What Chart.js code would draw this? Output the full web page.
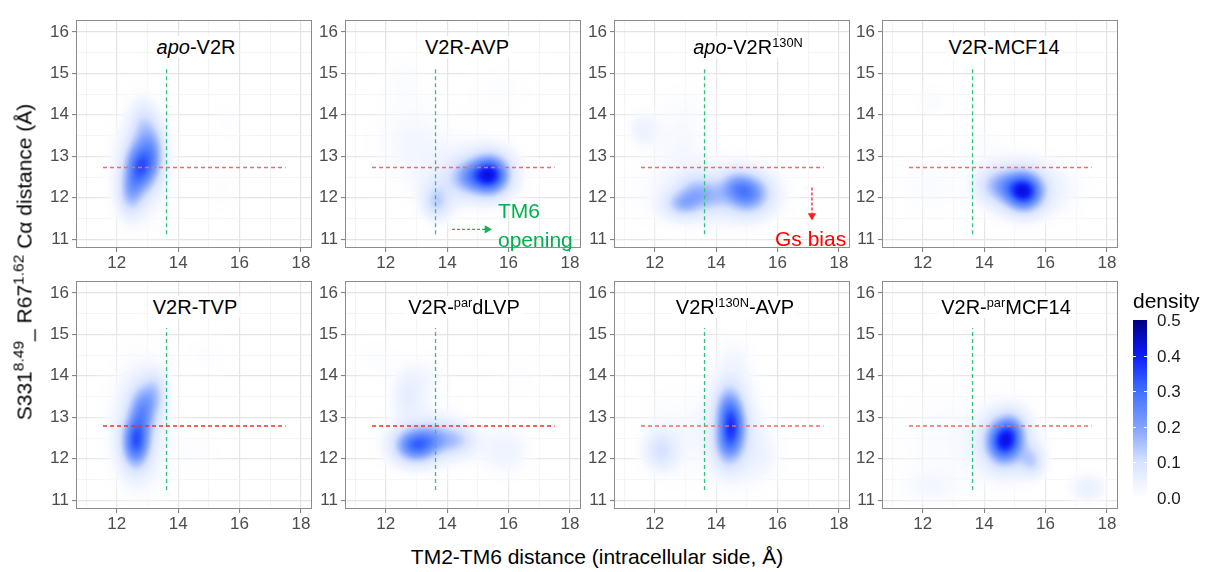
<!DOCTYPE html>
<html><head><meta charset="utf-8">
<script src="https://cdn.jsdelivr.net/npm/chart.js@4.4.1/dist/chart.umd.min.js"></script>
<style>
body{margin:0;background:#fff;width:1206px;height:572px;position:relative;overflow:hidden;font-family:"Liberation Sans",Arial,sans-serif;}
canvas{position:absolute;}
.t{position:absolute;transform:translate(-50%,-50%);white-space:nowrap;line-height:1;}
.l{position:absolute;transform:translate(0,-50%);white-space:nowrap;line-height:1;}
.ptitle{font-size:20px;color:#000;background:#fff;padding:1px 3px;}
sup{font-size:0.64em;position:relative;top:-0.55em;vertical-align:baseline;line-height:0;}
.ytitle sup{font-size:0.74em;top:-0.5em;}
.cbt{position:absolute;background:#fff;height:1px;width:3px;}
</style></head><body>
<script>
// ---------------- data ----------------
const xTickLabels=[12,14,16,18];
const xMinorTicks=[11,13,15,17];
const yTickLabels=[11,12,13,14,15,16];
const yMinorTicks=[11.5,12.5,13.5,14.5,15.5];
const densityTicks=[0,0.1,0.2,0.3,0.4,0.5];
const densityColors=['#ffffff','#d8e3ff','#80a2ff','#4070ff','#0d1cff','#000080'];
const panelTitles=['<i>apo</i>-V2R','V2R-AVP','<i>apo</i>-V2R<sup>130N</sup>','V2R-MCF14','V2R-TVP','V2R-<sup>par</sup>dLVP','V2R<sup>I130N</sup>-AVP','V2R-<sup>par</sup>MCF14'];
// density modes: [x, y, spreadX, spreadY, peak density]
const apoV2R=[[12.75,12.75,0.33,0.4,0.26],[12.45,12.1,0.28,0.35,0.12],[13.2,13.1,0.25,0.45,0.12],[12.85,13.7,0.28,0.4,0.08],[12.8,12.8,0.7,1.0,0.05],[15.6,13.85,0.4,0.4,0.015],[15.4,12.1,0.4,0.4,0.015]];
const v2rAVP=[[15.4,12.55,0.4,0.3,0.33],[14.7,12.5,0.4,0.28,0.13],[15.3,12.6,0.75,0.5,0.07],[13.65,11.9,0.3,0.28,0.1],[12.9,13.3,1.0,0.8,0.03],[13.9,12.3,0.6,0.5,0.035],[12.6,14.9,0.5,0.4,0.015],[15.8,14.6,0.8,0.5,0.015]];
const apoV2R130N=[[15.05,12.1,0.45,0.3,0.18],[14.6,12.3,0.35,0.25,0.08],[15.0,12.1,0.8,0.45,0.05],[12.9,11.85,0.4,0.22,0.12],[13.35,12.15,0.4,0.28,0.1],[13.9,12.0,0.35,0.25,0.06],[13.5,12.1,1.5,0.6,0.04],[11.6,13.65,0.35,0.28,0.04],[12.8,13.3,0.7,0.5,0.02],[13.0,14.2,0.8,0.5,0.015]];
const v2rMCF14=[[15.3,12.15,0.4,0.3,0.34],[14.5,12.3,0.45,0.28,0.12],[15.1,12.25,0.85,0.5,0.07],[12.3,14.35,0.45,0.3,0.02],[12.2,12.3,0.8,0.6,0.02],[13.8,13.4,0.6,0.4,0.015],[16.4,12.2,0.8,0.5,0.02]];
const v2rTVP=[[12.62,12.4,0.3,0.4,0.27],[12.85,13.2,0.3,0.4,0.16],[13.25,13.6,0.25,0.35,0.08],[12.75,12.8,0.7,1.1,0.06],[14.9,14.45,0.5,0.4,0.015],[14.8,12.2,0.5,0.4,0.015]];
const v2rParDLVP=[[12.95,12.32,0.45,0.27,0.25],[13.55,12.5,0.4,0.27,0.1],[14.3,12.45,0.4,0.25,0.1],[13.3,12.5,1.0,0.55,0.045],[12.7,13.55,0.35,0.4,0.05],[13.3,14.0,0.5,0.4,0.025],[15.9,12.2,0.6,0.45,0.04],[16.4,14.0,0.6,0.4,0.015],[11.7,14.4,0.5,0.4,0.015]];
const v2rI130NAVP=[[14.52,12.75,0.3,0.42,0.22],[14.4,13.25,0.3,0.4,0.12],[14.35,12.3,0.3,0.35,0.1],[14.5,12.8,0.65,0.9,0.06],[12.2,12.2,0.35,0.3,0.08],[12.6,12.5,0.9,0.8,0.025],[14.6,14.4,0.45,0.45,0.02],[15.4,12.1,0.6,0.5,0.03]];
const v2rParMCF14=[[14.65,12.42,0.38,0.35,0.33],[14.95,12.7,0.3,0.3,0.08],[15.55,11.95,0.28,0.25,0.1],[14.7,12.4,0.8,0.65,0.06],[17.4,11.3,0.45,0.25,0.05],[12.5,12.4,1.1,1.0,0.02],[12.2,11.3,0.7,0.3,0.02]];
const panelBlobs=[apoV2R,v2rAVP,apoV2R130N,v2rMCF14,v2rTVP,v2rParDLVP,v2rI130NAVP,v2rParMCF14];
// reference lines
const refTM6X=13.62;
const refTM6YTop=[11.12,15.1];
const refTM6YBottom=[11.25,15.15];
const refHelixYTop=12.73;
const refHelixYBottom=12.79;
const refHelixX=[11.55,17.5];
// arrows
const tm6ArrowX=[14.16,15.3], tm6ArrowY=11.24;
const gsArrowX=17.12, gsArrowY=[12.25,11.57];

// ---------------- layout ----------------
const XMIN=10.67,XMAX=18.36,YMIN=10.79,YMAX=16.28;
const colLeft=[76,345,614,882], rowTop=[15,276], PW=236, PH=233;
const PADL=50,PADT=8,PADR=8,PADB=30;
const titlePos=[[196,47],[467,47],[748,47],[1004,47],[195,307],[464,307],[735,307],[1006,307]];
const redCols=['#f46a6a','#f46a6a','#f46a6a','#f46a6a','#ff2a2a','#ff2a2a','#f46a6a','#f46a6a'];
const greenCol='#33c27a';
const FONT='"Liberation Sans", Arial, sans-serif';

function hex(h){return [parseInt(h.substr(1,2),16),parseInt(h.substr(3,2),16),parseInt(h.substr(5,2),16)];}
const cmap=densityColors.map(hex);
function colorAt(d){
  d=Math.max(0,Math.min(0.5,d));
  for(let i=0;i<densityTicks.length-1;i++){
    if(d<=densityTicks[i+1]){const f=(d-densityTicks[i])/(densityTicks[i+1]-densityTicks[i]);
      const a=cmap[i],b=cmap[i+1];return [a[0]+(b[0]-a[0])*f,a[1]+(b[1]-a[1])*f,a[2]+(b[2]-a[2])*f];}
  }
  return cmap[cmap.length-1];
}
function densityPlugin(blobs){
  return {id:'density',beforeDatasetsDraw(chart){
    const {left,top,width,height}=chart.chartArea;
    const xs=chart.scales.x, ys=chart.scales.y;
    const w=Math.round(width),h=Math.round(height);
    const off=document.createElement('canvas');off.width=w;off.height=h;
    const octx=off.getContext('2d');const img=octx.createImageData(w,h);const D=img.data;
    for(let py=0;py<h;py++){
      const yv=ys.getValueForPixel(top+py+0.5);
      for(let px=0;px<w;px++){
        const xv=xs.getValueForPixel(left+px+0.5);
        let d=0;
        for(const b of blobs){const dx=(xv-b[0])/b[2],dy=(yv-b[1])/b[3];d+=b[4]*Math.exp(-0.5*(dx*dx+dy*dy));}
        const c=colorAt(d);const k=(py*w+px)*4;
        D[k]=c[0];D[k+1]=c[1];D[k+2]=c[2];D[k+3]=Math.round(255*Math.min(1,d/0.03));
      }
    }
    octx.putImageData(img,0,0);
    chart.ctx.drawImage(off,left,top);
  }};
}
const framePlugin={id:'frame',afterDraw(chart){
  const {left,top,right,bottom}=chart.chartArea;const c=chart.ctx;
  c.save();c.strokeStyle='#8c8c8c';c.lineWidth=1;
  c.strokeRect(Math.round(left)+0.5,Math.round(top)+0.5,Math.round(right-left)-1,Math.round(bottom-top)-1);
  c.restore();
}};
function axis(minV,maxV,major,minor,isX){
  const all=[...major,...minor].sort((a,b)=>a-b);
  return {type:'linear',min:minV,max:maxV,
    afterBuildTicks:s=>{s.ticks=all.map(v=>({value:v}));},
    afterFit:s=>{if(isX)s.height=PADB;else s.width=PADL;},
    ticks:{autoSkip:false,maxRotation:0,padding:isX?1:3,color:'#4d4d4d',font:{family:FONT,size:17},
      callback:v=>major.includes(v)?String(v):''},
    grid:{color:c=>major.includes(c.tick.value)?'#e4e4e4':'#f1f1f1',
      lineWidth:c=>major.includes(c.tick.value)?1.2:0.8,
      tickColor:c=>major.includes(c.tick.value)?'#7a7a7a':'rgba(0,0,0,0)',
      tickLength:4,tickWidth:1,drawTicks:true},
    border:{display:false}};
}
function lineDs(pts,color,extra){
  return Object.assign({data:pts,showLine:true,borderColor:color,backgroundColor:color,borderWidth:1.3,borderDash:[4,3],pointRadius:0,fill:false},extra||{});
}

for(let i=0;i<8;i++){
  const col=i%4,row=Math.floor(i/4);
  const cv=document.createElement('canvas');
  const W=PW+PADL+PADR,H=PH+PADT+PADB;
  cv.width=W;cv.height=H;cv.style.left=(colLeft[col]-PADL)+'px';cv.style.top=(rowTop[row]-PADT)+'px';
  document.body.appendChild(cv);
  const vy=row===0?refTM6YTop:refTM6YBottom;
  const hy=row===0?refHelixYTop:refHelixYBottom;
  const ds=[
    lineDs([{x:refHelixX[0],y:hy},{x:refHelixX[1],y:hy}],redCols[i]),
    lineDs([{x:refTM6X,y:vy[0]},{x:refTM6X,y:vy[1]}],greenCol)
  ];
  if(i===1){ds.push(lineDs([{x:tm6ArrowX[0],y:tm6ArrowY},{x:tm6ArrowX[1],y:tm6ArrowY}],'#1fae55',{pointRadius:[0,3.5],pointStyle:'triangle',rotation:90,borderDash:[3,2]}));}
  if(i===2){ds.push(lineDs([{x:gsArrowX,y:gsArrowY[0]},{x:gsArrowX,y:gsArrowY[1]}],'#ff2020',{pointRadius:[0,3.5],pointStyle:'triangle',rotation:180,borderDash:[3,2]}));}
  new Chart(cv.getContext('2d'),{type:'scatter',data:{datasets:ds},
    options:{responsive:false,animation:false,devicePixelRatio:1,
      layout:{padding:{left:0,top:PADT,right:PADR,bottom:0}},
      plugins:{legend:{display:false},tooltip:{enabled:false}},
      scales:{x:axis(XMIN,XMAX,xTickLabels,xMinorTicks,true),y:axis(YMIN,YMAX,yTickLabels,yMinorTicks,false)}},
    plugins:[densityPlugin(panelBlobs[i]),framePlugin]});
  const t=document.createElement('div');t.className='t ptitle';t.innerHTML=panelTitles[i];
  t.style.left=titlePos[i][0]+'px';t.style.top=titlePos[i][1]+'px';document.body.appendChild(t);
}
function addText(cls,html,x,y,style){const d=document.createElement('div');d.className=cls;d.innerHTML=html;d.style.left=x+'px';d.style.top=y+'px';Object.assign(d.style,style||{});document.body.appendChild(d);return d;}
addText('l','TM6',498,210,{fontSize:'21px',color:'#00b050'});
addText('l','opening',498,239,{fontSize:'21px',color:'#00b050'});
addText('l','Gs bias',775,238,{fontSize:'21px',color:'#ff0000'});
addText('t','TM2-TM6 distance (intracellular side, Å)',597,556,{fontSize:'21px',color:'#000'});
const yt=addText('t ytitle','S331<sup>8.49</sup>_ R67<sup>1.62</sup> Cα distance (Å)',24,262,{fontSize:'21px',color:'#000'});
yt.style.transform='translate(-50%,-50%) rotate(-90deg)';
// colour bar
const cbTop=320,cbBot=498,cbLeft=1133,cbW=14;
const bar=document.createElement('div');
bar.style.cssText=`position:absolute;left:${cbLeft}px;top:${cbTop}px;width:${cbW}px;height:${cbBot-cbTop}px;background:linear-gradient(to top,${densityColors.map((c,i)=>c+' '+(densityTicks[i]/0.5*100)+'%').join(',')});`;
document.body.appendChild(bar);
densityTicks.forEach(v=>{
  const y=cbBot-(v/0.5)*(cbBot-cbTop);
  addText('l',v.toFixed(1),1157,y,{fontSize:'17px',color:'#1a1a1a'});
  if(v>0&&v<0.5){
    const a=document.createElement('div');a.className='cbt';a.style.left=cbLeft+'px';a.style.top=Math.round(y)+'px';document.body.appendChild(a);
    const b=document.createElement('div');b.className='cbt';b.style.left=(cbLeft+cbW-3)+'px';b.style.top=Math.round(y)+'px';document.body.appendChild(b);
  }
});
addText('l','density',1133,300,{fontSize:'21px',color:'#000'});
</script>
</body></html>
